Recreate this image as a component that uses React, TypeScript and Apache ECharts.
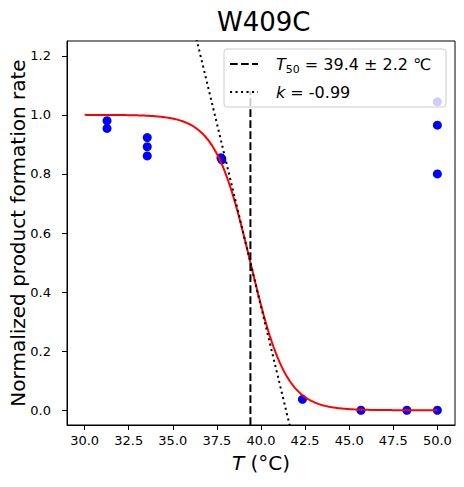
import React, { useEffect, useRef } from 'react';
import * as echarts from 'echarts';

// measured points
const tempC = [31.27, 31.27, 33.55, 33.55, 33.55, 37.73, 37.78, 42.35, 45.67, 48.27, 50.0, 50.0, 50.0, 50.0];
const rate = [0.98, 0.954, 0.923, 0.892, 0.861, 0.855, 0.848, 0.037, 0.0, 0.0, 0.0, 1.044, 0.965, 0.8];

// fit parameters (from legend)
const T50 = 39.4;
const T50err = 2.2;
const slopeK = -0.99;
const fitFrom = 30;
const fitTo = 50;

const xTicks = [30, 32.5, 35, 37.5, 40, 42.5, 45, 47.5, 50];
const yTicks = [0, 0.2, 0.4, 0.6, 0.8, 1.0, 1.2];

const FONT = 'DejaVu Sans';

export default function App() {
  const ref = useRef<HTMLDivElement>(null);
  useEffect(() => {
    if (!ref.current) return;
    const chart = echarts.init(ref.current, undefined, { renderer: 'svg' });

    const points = tempC.map((t, i) => [t, rate[i]]);
    const fit: number[][] = [];
    const steps = 400;
    for (let i = 0; i <= steps; i++) {
      const x = fitFrom + ((fitTo - fitFrom) * i) / steps;
      fit.push([x, 1 / (1 + Math.exp(-slopeK * (x - T50)))]);
    }
    const tangent = [34, 45].map((x) => [x, 0.5 + (slopeK / 4) * (x - T50)]);
    const vline = [
      [T50, -0.05],
      [T50, 1.08],
    ];

    chart.setOption({
      animation: false,
      textStyle: { fontFamily: FONT },
      title: {
        text: 'W409C',
        left: 212,
        top: 4,
        textStyle: { fontFamily: FONT, fontSize: 26, fontWeight: 'normal', color: '#000' },
      },
      grid: {
        left: 67,
        right: 9,
        top: 41,
        bottom: 62,
        containLabel: false,
        outerBoundsMode: 'none',
        show: true,
        borderColor: '#000',
        borderWidth: 1,
        backgroundColor: 'transparent',
      },
      xAxis: {
        type: 'value',
        min: 29,
        max: 51,
        name: '{i|T} (°C)',
        nameLocation: 'middle',
        nameGap: 28,
        nameMoveOverlap: false,
        nameTextStyle: {
          fontFamily: FONT,
          fontSize: 20,
          color: '#000',
          rich: { i: { fontFamily: FONT, fontSize: 20, fontStyle: 'italic', color: '#000' } },
        },
        axisLine: { show: true, onZero: false, lineStyle: { color: '#000', width: 1 } },
        axisTick: { show: true, customValues: xTicks, length: 5, lineStyle: { color: '#000' } },
        axisLabel: {
          customValues: xTicks,
          formatter: (v: number) => v.toFixed(1),
          fontFamily: FONT,
          fontSize: 13,
          color: '#000',
          margin: 9,
        },
        splitLine: { show: false },
      },
      yAxis: {
        type: 'value',
        min: -0.05,
        max: 1.25,
        name: 'Normalized product formation rate',
        nameLocation: 'middle',
        nameGap: 39,
        nameMoveOverlap: false,
        nameTextStyle: { fontFamily: FONT, fontSize: 20, color: '#000' },
        axisLine: { show: true, onZero: false, lineStyle: { color: '#000', width: 1 } },
        axisTick: { show: true, customValues: yTicks, length: 5, lineStyle: { color: '#000' } },
        axisLabel: {
          customValues: yTicks,
          formatter: (v: number) => v.toFixed(1),
          fontFamily: FONT,
          fontSize: 13,
          color: '#000',
          margin: 16,
        },
        splitLine: { show: false },
      },
      series: [
        {
          type: 'scatter',
          data: points,
          symbol: 'circle',
          symbolSize: 9,
          itemStyle: { color: '#0000ff', opacity: 1 },
          z: 2,
        },
        {
          type: 'line',
          data: fit,
          showSymbol: false,
          symbol: 'none',
          lineStyle: { color: '#ff0000', width: 2 },
          z: 3,
        },
        {
          type: 'line',
          data: vline,
          showSymbol: false,
          symbol: 'none',
          lineStyle: { color: '#000', width: 2, type: [7.7, 3.3] },
          z: 4,
        },
        {
          type: 'line',
          data: tangent,
          showSymbol: false,
          symbol: 'none',
          lineStyle: { color: '#000', width: 2, type: [2.1, 3.4] },
          z: 4,
        },
      ],
      graphic: [
        {
          type: 'rect',
          z: 100,
          shape: { x: 224, y: 49, width: 222, height: 58, r: 3 },
          style: { fill: 'rgba(255,255,255,0.8)', stroke: '#cccccc', lineWidth: 1 },
        },
        {
          type: 'line',
          z: 101,
          shape: { x1: 230, y1: 64, x2: 258, y2: 64 },
          style: { stroke: '#000', lineWidth: 2, lineDash: [7.7, 3.3] },
        },
        {
          type: 'line',
          z: 101,
          shape: { x1: 230, y1: 92, x2: 258, y2: 92 },
          style: { stroke: '#000', lineWidth: 2, lineDash: [2.1, 3.4] },
        },
        {
          type: 'text',
          z: 101,
          x: 276,
          y: 64,
          style: {
            text: `{i|T}{s|50}{n| = ${T50.toFixed(1)} ± ${T50err.toFixed(1)} ℃}`,
            verticalAlign: 'middle',
            align: 'left',
            fill: '#000',
            fontFamily: FONT,
            fontSize: 16,
            rich: {
              i: { fontFamily: FONT, fontSize: 16, fontStyle: 'italic', lineHeight: 22, fill: '#000' },
              s: { fontFamily: FONT, fontSize: 11, lineHeight: 12, verticalAlign: 'bottom', fill: '#000' },
              n: { fontFamily: FONT, fontSize: 16, lineHeight: 22, fill: '#000' },
            },
          },
        },
        {
          type: 'text',
          z: 101,
          x: 276,
          y: 92,
          style: {
            text: `{i|k}{n| = ${slopeK.toFixed(2)}}`,
            verticalAlign: 'middle',
            align: 'left',
            fill: '#000',
            fontFamily: FONT,
            fontSize: 16,
            rich: {
              i: { fontFamily: FONT, fontSize: 16, fontStyle: 'italic', lineHeight: 22, fill: '#000' },
              n: { fontFamily: FONT, fontSize: 16, lineHeight: 22, fill: '#000' },
            },
          },
        },
      ],
    });
    return () => chart.dispose();
  }, []);

  return (
    <div
      ref={ref}
      style={{ position: 'fixed', left: 0, top: 0, width: 464, height: 487, background: '#fff' }}
    />
  );
}
